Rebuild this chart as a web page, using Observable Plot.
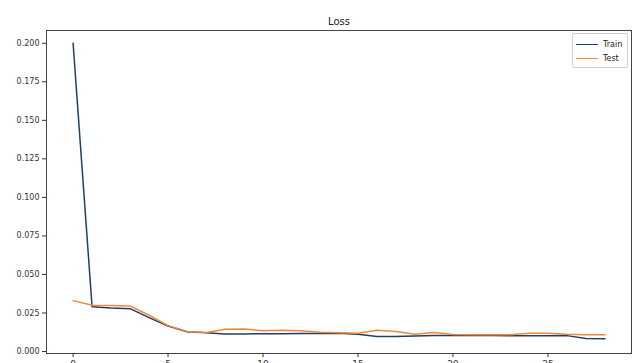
<!DOCTYPE html>
<html>
<head>
<meta charset="utf-8">
<script src="https://cdn.jsdelivr.net/npm/d3@7"></script>
<script src="https://cdn.jsdelivr.net/npm/@observablehq/plot@0.6"></script>
<style>
  body { margin: 0; background: #fff; font-family: "DejaVu Sans", sans-serif; }
  #chart { position: relative; width: 634px; height: 363px; overflow: hidden; }
  .legend {
    position: absolute; left: 572px; top: 33px; width: 56px; height: 35px;
    box-sizing: border-box; border: 1px solid #cfcfcf; border-radius: 2px;
    background: rgba(255,255,255,0.85); font-size: 8px; color: #222;
    padding: 3px 0 0 3px;
  }
  .legend .row { display: flex; align-items: center; height: 14px; }
  .legend .sw { width: 22px; height: 0; border-top: 1.5px solid; margin-right: 5px; }
</style>
</head>
<body>
<div id="chart"></div>
<script>
// Training history: loss per epoch for the training and test sets
const epochs = d3.range(0, 29);
const trainLoss = [
  0.200, 0.029, 0.0282, 0.0278, 0.022, 0.0165, 0.0128, 0.0122, 0.0113, 0.0114,
  0.0115, 0.0115, 0.0116, 0.0117, 0.0118, 0.0112, 0.0098, 0.0097, 0.0101, 0.0104,
  0.0103, 0.0104, 0.0103, 0.0102, 0.0102, 0.0102, 0.0103, 0.0085, 0.0082
];
const testLoss = [
  0.033, 0.030, 0.0298, 0.0296, 0.0235, 0.0168, 0.013, 0.0124, 0.0145, 0.0146,
  0.0135, 0.0138, 0.0134, 0.0125, 0.0122, 0.0119, 0.0138, 0.0130, 0.0112, 0.0124,
  0.0110, 0.0108, 0.0109, 0.0109, 0.0118, 0.0119, 0.0112, 0.0108, 0.0108
];
const seriesNames = ["Train", "Test"];
const seriesColors = ["#1f3f66", "#f0883a"];
const xTicks = [0, 5, 10, 15, 20, 25];
const yTicks = [0, 0.025, 0.05, 0.075, 0.1, 0.125, 0.15, 0.175, 0.2];
const title = "Loss";

const rows = epochs.flatMap((e, i) => [
  {epoch: e, loss: trainLoss[i], series: seriesNames[0]},
  {epoch: e, loss: testLoss[i], series: seriesNames[1]}
]);

const fmt = d3.format(".3f");

const plot = Plot.plot({
  width: 634,
  height: 363,
  marginLeft: 46,
  marginRight: 3,
  marginTop: 30,
  marginBottom: 10,
  style: {fontFamily: "DejaVu Sans, sans-serif", fontSize: "8px", color: "#333", background: "#fff"},
  x: {domain: [-1.4, 29.4]},
  y: {domain: [-0.0013, 0.2083]},
  color: {domain: seriesNames, range: seriesColors},
  marks: [
    Plot.frame({stroke: "#444", strokeWidth: 1}),
    Plot.axisX({ticks: xTicks, tickSize: 4, tickPadding: 3, label: null, fontSize: 9}),
    Plot.axisY({ticks: yTicks, tickSize: 4, tickPadding: 3, label: null, tickFormat: fmt, fontSize: 8}),
    Plot.line(rows.filter(d => d.series === seriesNames[0]),
      {x: "epoch", y: "loss", stroke: "series", strokeWidth: 1.5}),
    Plot.line(rows.filter(d => d.series === seriesNames[1]),
      {x: "epoch", y: "loss", stroke: "series", strokeWidth: 1.5}),
    Plot.text([title], {frameAnchor: "top", dy: -13, fontSize: 10, fill: "#222"})
  ]
});

const chart = document.getElementById("chart");
chart.appendChild(plot);

// Legend box in the upper right corner of the axes
const legend = document.createElement("div");
legend.className = "legend";
seriesNames.forEach((name, i) => {
  const row = document.createElement("div");
  row.className = "row";
  const sw = document.createElement("span");
  sw.className = "sw";
  sw.style.borderColor = seriesColors[i];
  const label = document.createElement("span");
  label.textContent = name;
  row.appendChild(sw);
  row.appendChild(label);
  legend.appendChild(row);
});
chart.appendChild(legend);
</script>
</body>
</html>
